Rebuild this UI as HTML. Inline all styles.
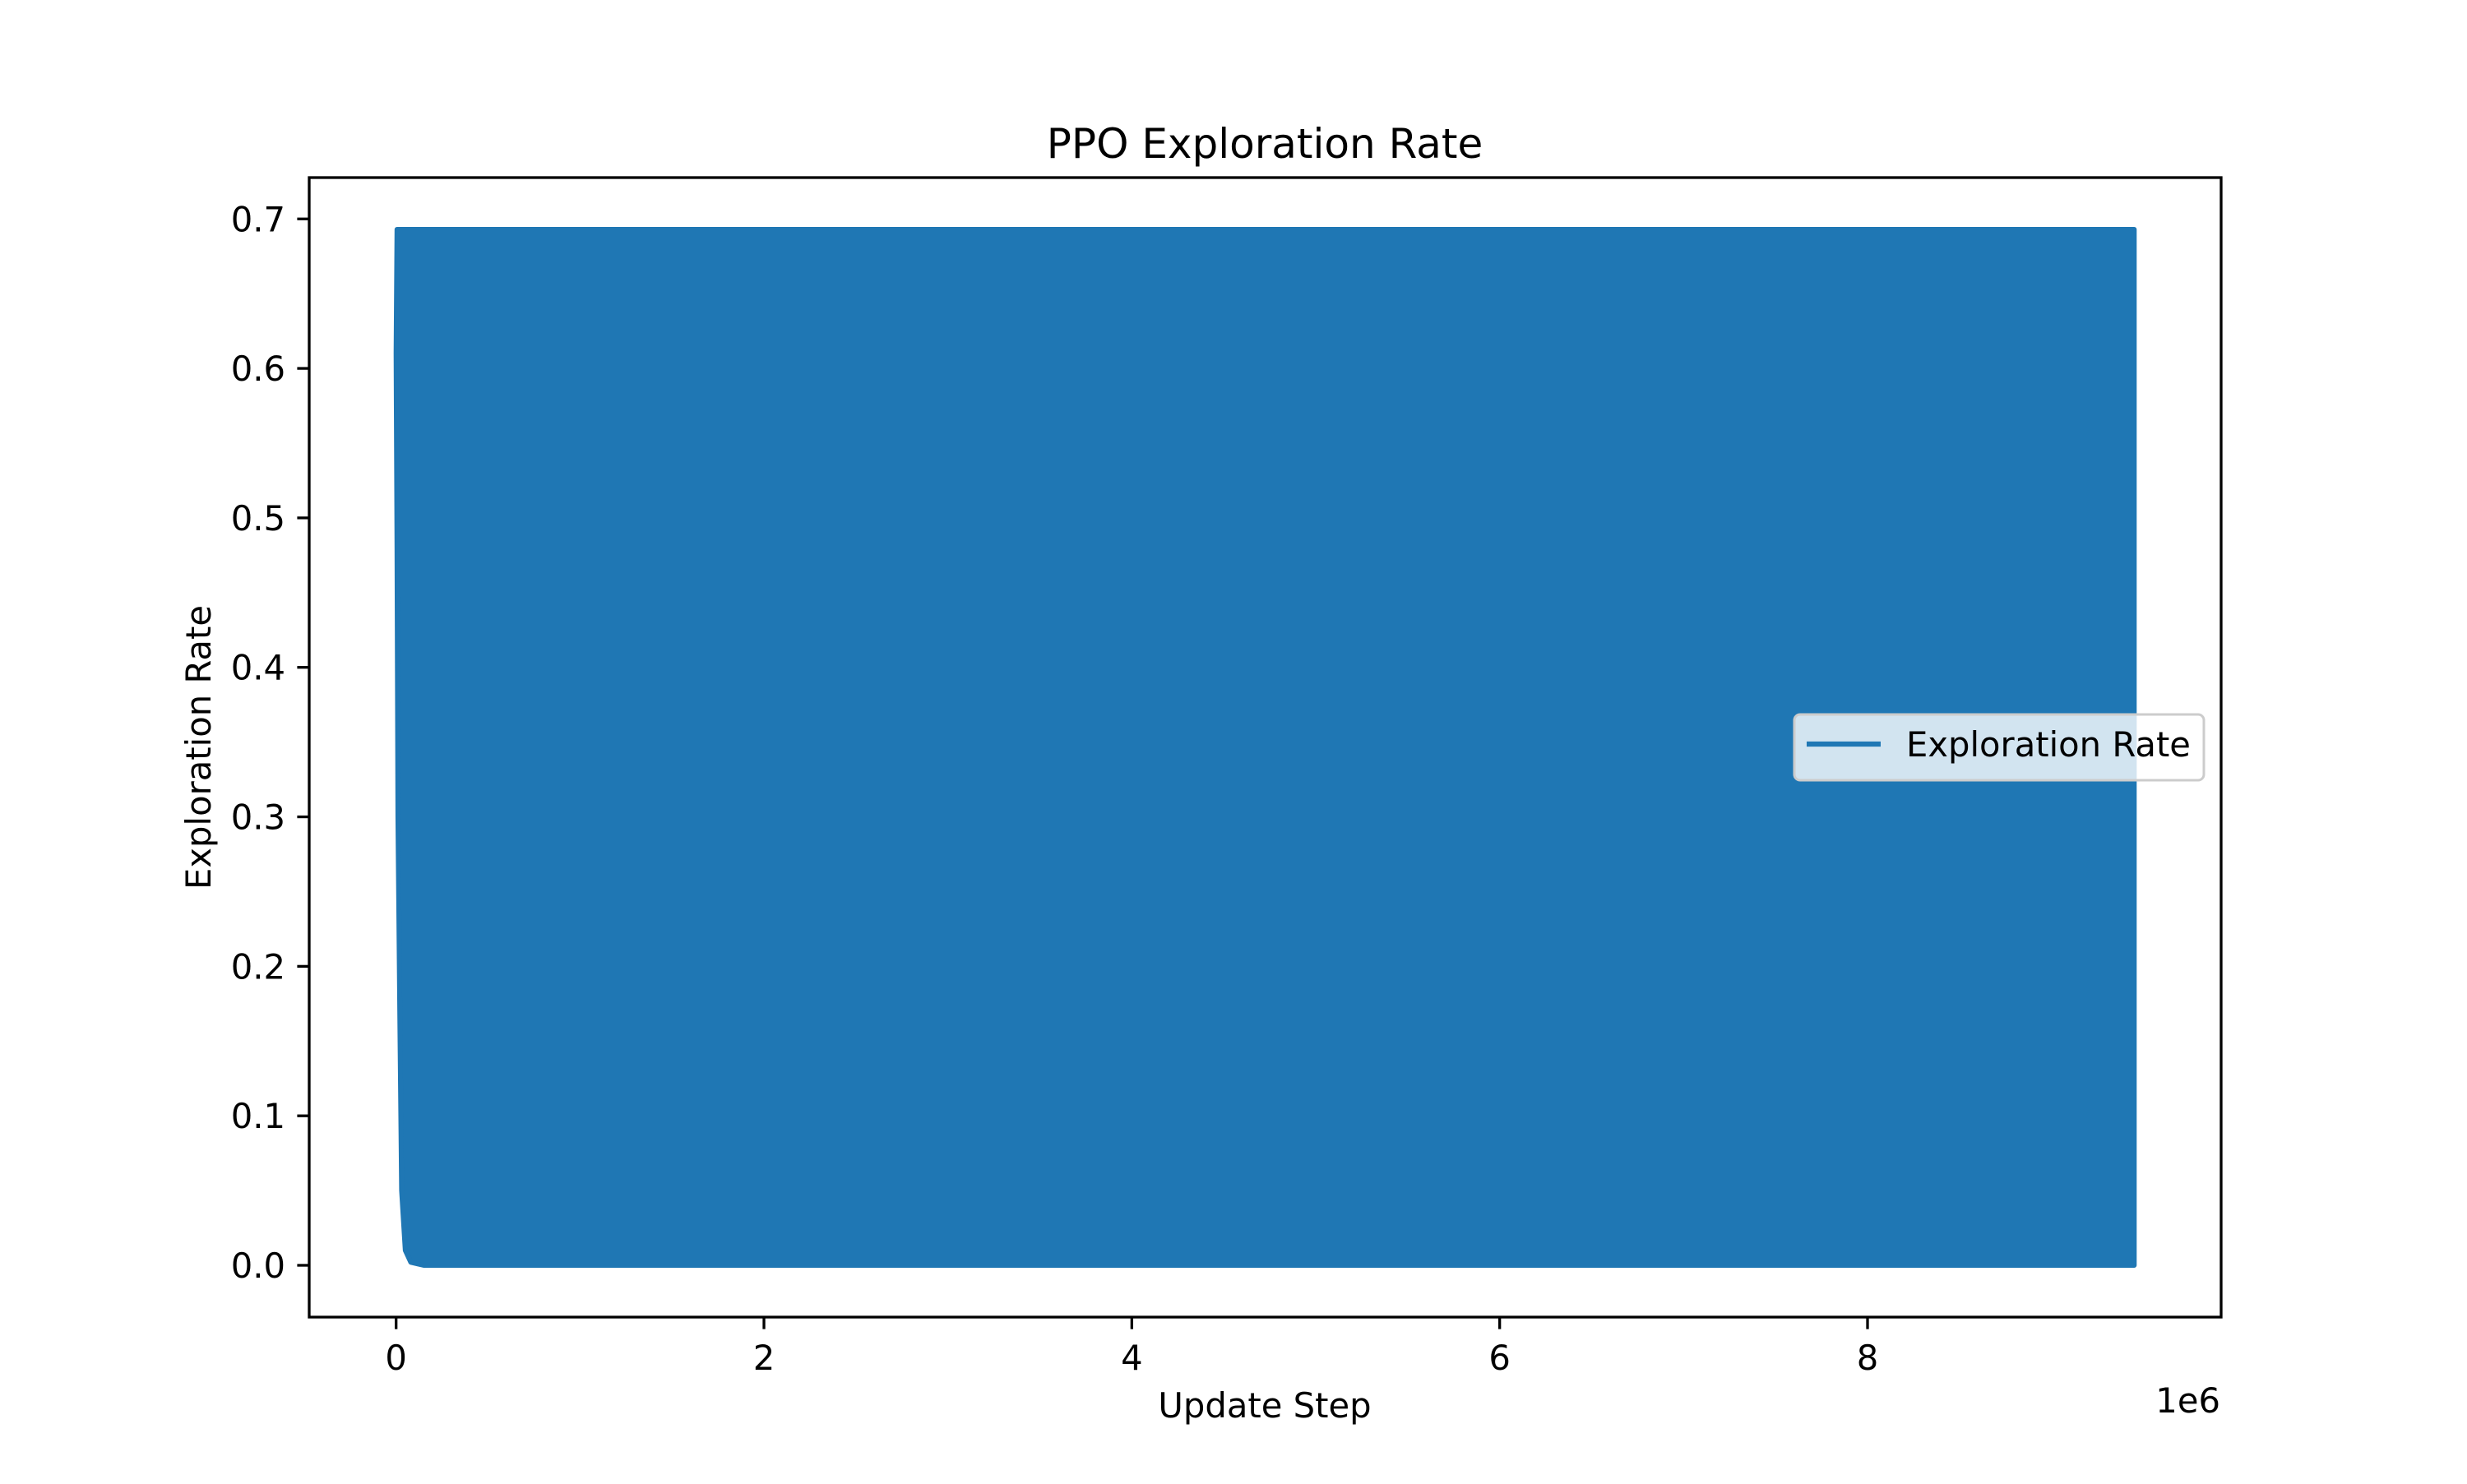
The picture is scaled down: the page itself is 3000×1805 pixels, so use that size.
<!DOCTYPE html>
<html><head><meta charset="utf-8"><style>
body{margin:0;background:#fff}
svg text{font-family:"DejaVu Sans","Liberation Sans",sans-serif;fill:#000}
</style></head><body>
<svg id="chart" width="3000" height="1800" viewBox="0 0 3000 1800" xmlns="http://www.w3.org/2000/svg">
<rect width="3000" height="1800" fill="#fff"/>
<text x="1538" y="192" font-size="50" text-anchor="middle">PPO Exploration Rate</text>
<g id="plot"></g>
<rect x="376" y="216" width="2325" height="1386" fill="none" stroke="#000" stroke-width="3.3"/>
<g id="ticks"></g>
<text x="1538" y="1724" font-size="41.7" text-anchor="middle">Update Step</text>
<text x="0" y="0" font-size="41.7" text-anchor="middle" transform="translate(256,909) rotate(-90)">Exploration Rate</text>
<text x="2700" y="1718" font-size="41.7" text-anchor="end">1e6</text>
<g>
<rect x="2182" y="869" width="498" height="80" rx="7" fill="#fff" fill-opacity="0.8" stroke="#ccc" stroke-width="3"/>
<line x1="2197" y1="905" x2="2287" y2="905" stroke="#1f77b4" stroke-width="6.2"/>
<text x="2318" y="920" font-size="41.7">Exploration Rate</text>
</g>
</svg>
<script>
const envX = [0, 0.005e6, 0.01e6, 0.02e6, 0.03e6, 0.05e6, 0.08e6, 0.15e6, 9.45e6];
const envUpper = [0.61, 0.693, 0.693, 0.693, 0.693, 0.693, 0.693, 0.693, 0.693];
const envLower = [0.61, 0.48, 0.30, 0.17, 0.05, 0.01, 0.002, 0.0, 0.0];
const xTicks = [0, 2e6, 4e6, 6e6, 8e6];
const xTickLabels = ["0", "2", "4", "6", "8"];
const yTicks = [0, 0.1, 0.2, 0.3, 0.4, 0.5, 0.6, 0.7];
const yTickLabels = ["0.0", "0.1", "0.2", "0.3", "0.4", "0.5", "0.6", "0.7"];

const X0 = 376, X1 = 2701, Y0 = 1602, Y1 = 216;
const xMin = -0.4725e6, xMax = 9.9225e6, yMin = -0.03465, yMax = 0.72765;
const sx = v => X0 + (v - xMin) / (xMax - xMin) * (X1 - X0);
const sy = v => Y0 - (v - yMin) / (yMax - yMin) * (Y0 - Y1);
const NS = "http://www.w3.org/2000/svg";

const plot = document.getElementById('plot');
let pts = [];
for (let i = 0; i < envX.length; i++) pts.push(sx(envX[i]) + ',' + sy(envUpper[i]));
for (let i = envX.length - 1; i >= 0; i--) pts.push(sx(envX[i]) + ',' + sy(envLower[i]));
const poly = document.createElementNS(NS, 'polygon');
poly.setAttribute('points', pts.join(' '));
poly.setAttribute('fill', '#1f77b4');
poly.setAttribute('stroke', '#1f77b4');
poly.setAttribute('stroke-width', '6');
poly.setAttribute('stroke-linejoin', 'round');


plot.appendChild(poly);

const ticks = document.getElementById('ticks');
xTicks.forEach((v, i) => {
  const x = sx(v);
  const l = document.createElementNS(NS, 'line');
  l.setAttribute('x1', x); l.setAttribute('x2', x);
  l.setAttribute('y1', Y0); l.setAttribute('y2', Y0 + 14.6);
  l.setAttribute('stroke', '#000'); l.setAttribute('stroke-width', '3.3');
  
  
  ticks.appendChild(l);
  const t = document.createElementNS(NS, 'text');
  t.setAttribute('x', x); t.setAttribute('y', Y0 + 64);
  t.setAttribute('font-size', '41.7'); t.setAttribute('text-anchor', 'middle');
  t.textContent = xTickLabels[i];
  
  
  ticks.appendChild(t);
});
yTicks.forEach((v, i) => {
  const y = sy(v);
  const l = document.createElementNS(NS, 'line');
  l.setAttribute('x1', X0 - 14.6); l.setAttribute('x2', X0);
  l.setAttribute('y1', y); l.setAttribute('y2', y);
  l.setAttribute('stroke', '#000'); l.setAttribute('stroke-width', '3.3');
  
  
  ticks.appendChild(l);
  const t = document.createElementNS(NS, 'text');
  t.setAttribute('x', X0 - 29); t.setAttribute('y', y + 15);
  t.setAttribute('font-size', '41.7'); t.setAttribute('text-anchor', 'end');
  t.textContent = yTickLabels[i];
  
  
  ticks.appendChild(t);
});
</script>
</body></html>
